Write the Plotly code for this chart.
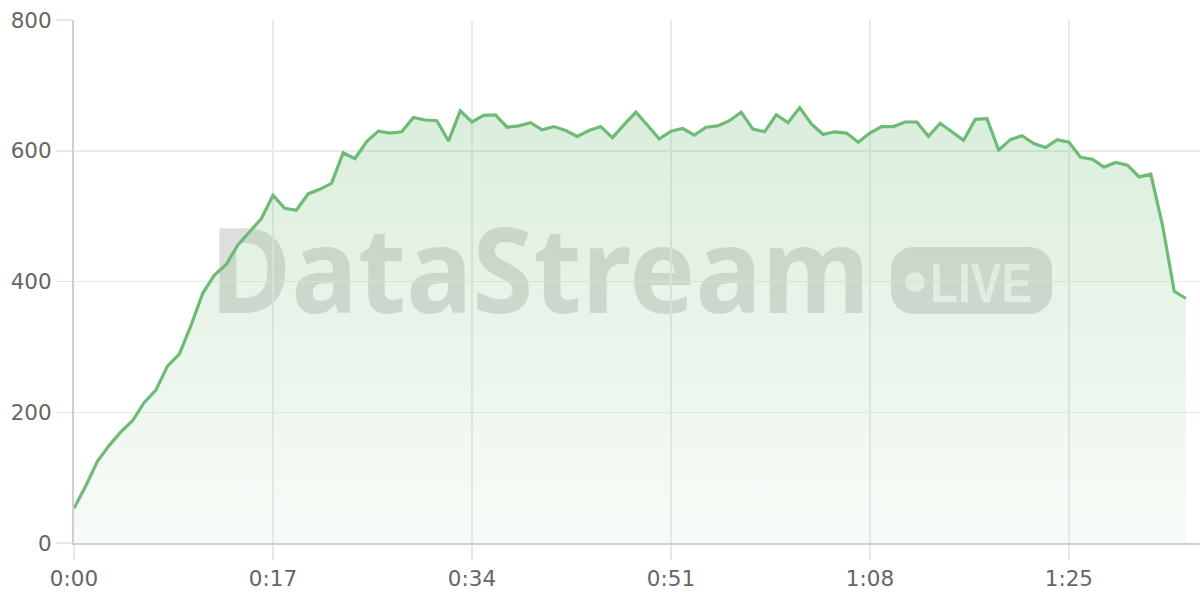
import base64
import plotly.graph_objects as go

# ---- data (one sample per second) ----
seconds = list(range(96))
values = [
    53, 87, 125, 149, 170, 187, 215, 234, 271, 289,
    333, 382, 410, 426, 456, 476, 496, 532, 512, 509,
    534, 541, 550, 597, 588, 614, 630, 627, 629, 651,
    647, 646, 615, 661, 644, 654, 655, 636, 638, 643,
    632, 637, 631, 622, 631, 637, 620, 640, 659, 639,
    618, 630, 634, 624, 636, 638, 646, 659, 633, 629,
    655, 643, 666, 641, 625, 629, 627, 613, 627, 637,
    637, 644, 644, 622, 642, 629, 616, 648, 649, 601,
    617, 623, 611, 605, 617, 613, 590, 587, 575, 582,
    578, 560, 564, 486, 385, 374,
]
tick_vals = [0, 17, 34, 51, 68, 85]
tick_text = ["0:00", "0:17", "0:34", "0:51", "1:08", "1:25"]
y_ticks = [0, 200, 400, 600, 800]

LINE = "#6DBB74"

fig = go.Figure()
fig.add_trace(go.Scatter(
    x=seconds, y=values, mode="lines",
    line=dict(color=LINE, width=3.2),
    fill="tozeroy",
    fillgradient=dict(
        type="vertical", start=0, stop=700,
        colorscale=[[0, "rgba(107,186,115,0.05)"], [1, "rgba(107,186,115,0.26)"]],
    ),
    hoverinfo="skip", showlegend=False,
))

# ---- watermark (decoration) ----
svg = (
    '<svg xmlns="http://www.w3.org/2000/svg" width="860" height="100" viewBox="0 0 860 100" '
    'preserveAspectRatio="none">'
    '<text x="10" y="93" font-family="Noto Sans" font-weight="bold" font-size="119" '
    'textLength="660" lengthAdjust="spacingAndGlyphs" fill="#000" fill-opacity="0.13">DataStream</text>'
    '<rect x="691" y="27" width="161" height="67" rx="22" ry="22" fill="#000" fill-opacity="0.13"/>'
    '<circle cx="715" cy="62" r="10" fill="#fff" fill-opacity="0.75"/>'
    '<text x="730" y="82" font-family="Liberation Sans" font-weight="bold" font-size="55" '
    'textLength="102" lengthAdjust="spacingAndGlyphs" fill="#fff" fill-opacity="0.75">LIVE</text>'
    '</svg>'
)
src = "data:image/svg+xml;base64," + base64.b64encode(svg.encode()).decode()
fig.add_layout_image(dict(
    source=src, xref="paper", yref="paper",
    x=(200 - 74) / 1126, y=(543 - 220) / 523,
    sizex=860 / 1126, sizey=100 / 523,
    xanchor="left", yanchor="top", sizing="stretch", layer="below", opacity=1,
))

axis_font = dict(family="DejaVu Sans", size=21.5, color="#666")
fig.update_layout(
    width=1200, height=600,
    margin=dict(l=74, r=0, t=20, b=57),
    paper_bgcolor="white", plot_bgcolor="rgba(0,0,0,0)",
    xaxis=dict(
        range=[0, 96.2], tickvals=tick_vals, ticktext=tick_text,
        showgrid=True, gridcolor="#ebebeb", gridwidth=1.5,
        showline=True, linecolor="#cfcfcf", linewidth=2,
        ticks="outside", ticklen=15, tickcolor="#e6e6e6", tickwidth=1.5,
        tickfont=axis_font, zeroline=False, fixedrange=True,
    ),
    yaxis=dict(
        range=[0, 800], tickvals=y_ticks,
        showgrid=True, gridcolor="#ebebeb", gridwidth=1.5,
        showline=True, linecolor="#cfcfcf", linewidth=2,
        ticks="outside", ticklen=16, tickcolor="#e6e6e6", tickwidth=1.5,
        tickfont=axis_font, zeroline=False, fixedrange=True,
    ),
)

fig.write_html(
    "out.html",
    config={"displayModeBar": False, "staticPlot": True},
    post_script="document.body.style.margin='0';document.body.style.overflow='hidden';",
)
